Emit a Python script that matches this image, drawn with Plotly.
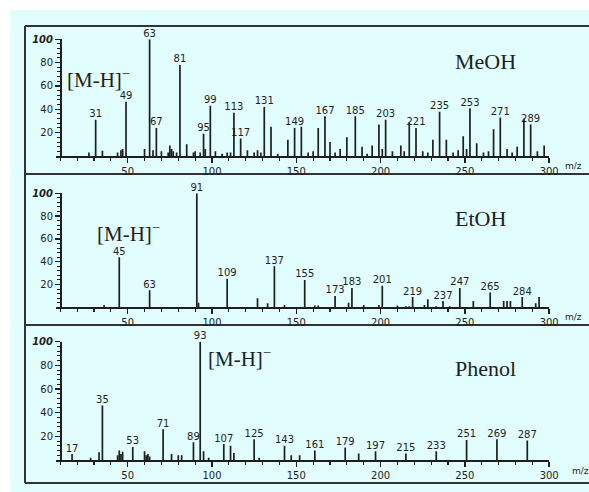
import plotly.graph_objects as go

W, H = 589, 492

# ---------------- data ----------------
meoh_mz = [27, 31, 35, 44, 46, 47, 49, 60, 63, 65, 67, 70, 74, 75, 76, 77, 79, 81, 85, 89, 90,
           93, 95, 96, 99, 102, 106, 109, 111, 113, 117, 121, 125, 127, 129, 131, 135, 139, 145,
           149, 153, 157, 160, 163, 167, 170, 173, 176, 180, 185, 189, 192, 195, 199, 201, 203,
           207, 212, 214, 217, 221, 225, 228, 231, 235, 239, 243, 246, 249, 251, 253, 257, 261,
           264, 267, 271, 275, 278, 281, 285, 289, 293, 297]
meoh_int = [3, 31, 4.5, 3, 5, 6, 46.5, 6, 100, 5, 24, 4, 3, 9, 6, 4, 3, 78, 10, 3, 4,
            3, 19, 6, 43, 4, 2, 3, 3, 37, 15, 5, 3, 5, 3, 42, 25, 2, 14,
            24, 25, 3, 4, 24, 34, 12, 3, 6, 16, 34, 8, 2, 9, 27, 6, 31,
            4, 9, 4, 29, 24, 4, 3, 14, 38, 14, 3, 5, 17, 6, 41, 11, 3,
            4, 23, 33, 6, 3, 8, 32, 27, 4, 9]
meoh_labels = [31, 49, 63, 67, 81, 95, 99, 113, 117, 131, 149, 167, 185, 203, 221, 235, 253, 271, 289]

etoh_mz = [36, 45, 63, 91, 92, 109, 127, 133, 137, 143, 155, 161, 163, 173, 181, 183, 190, 199,
           201, 210, 215, 217, 219, 226, 228, 233, 237, 241, 247, 255, 265, 273, 275, 277, 284,
           292, 294]
etoh_int = [2, 44, 15, 100, 4, 25, 8, 3.5, 36, 2, 24, 1.5, 1.5, 10, 4, 17, 2, 2,
            19, 1.5, 1, 1, 9, 2, 7, 1, 5.5, 1, 17, 5.5, 13, 5.5, 5.5, 5.5, 9,
            3.5, 9]
etoh_labels = [45, 63, 91, 109, 137, 155, 173, 183, 201, 219, 237, 247, 265, 284]

phenol_mz = [17, 28, 33, 35, 44, 45, 46, 47, 53, 60, 61, 62, 63, 71, 76, 80, 82, 89, 93, 95,
             98, 107, 111, 113, 125, 128, 143, 147, 152, 161, 179, 187, 197, 215, 233, 251,
             269, 287]
phenol_int = [5, 2, 6.5, 46, 4, 8, 5, 7, 11, 7.5, 4, 5, 3, 26, 5, 4, 4, 15, 100, 7.5,
              2, 13.5, 12, 6, 17.5, 2, 12, 4, 4, 8, 10.5, 5.6, 7.5, 5.6, 7.5, 17,
              17.5, 16.5]
phenol_labels = [17, 35, 53, 71, 89, 93, 107, 125, 143, 161, 179, 197, 215, 233, 251, 269, 287]

solvents = ["MeOH", "EtOH", "Phenol"]
x_ticks = [50, 100, 150, 200, 250, 300]
y_ticks = [20, 40, 60, 80, 100]
y_ticktext = ["20", "40", "60", "80", "<b><i>100</i></b>"]

# ---------------- layout geometry (pixels) ----------------
def px(x):
    return x / W

def py(y):
    return 1 - y / H

# x-axis: m/z -> pixel  (px = 43.4 + 1.686*m)
X0, XS = 43.4, 1.686
xr = [7.5, 300]
xdom = [px(X0 + XS * xr[0]), px(X0 + XS * xr[1])]
yaxis_pos = px(60)

panels = [
    dict(mz=meoh_mz, it=meoh_int, lab=meoh_labels, base=156.0, top=39.3,
         mh=(65, 78), name_y=62, mz_lab=(563, 166)),
    dict(mz=etoh_mz, it=etoh_int, lab=etoh_labels, base=307.3, top=193.3,
         mh=(95, 232), name_y=219, mz_lab=(563, 317)),
    dict(mz=phenol_mz, it=phenol_int, lab=phenol_labels, base=460.0, top=341.7,
         mh=(206, 357), name_y=368, mz_lab=(570, 471)),
]

ink = "#1e1e1e"
fig = go.Figure()
layout = dict(
    width=W, height=H,
    margin=dict(l=0, r=0, t=0, b=0, autoexpand=False),
    paper_bgcolor="white",
    plot_bgcolor="rgba(0,0,0,0)",
    showlegend=False,
    font=dict(family="DejaVu Sans", size=10, color=ink),
)

annotations = []
for i, p in enumerate(panels):
    n = i + 1
    xa = "x" if n == 1 else f"x{n}"
    ya = "y" if n == 1 else f"y{n}"
    # sticks
    xs, ys = [], []
    for m, v in zip(p["mz"], p["it"]):
        xs += [m, m, None]
        ys += [0, v, None]
    fig.add_trace(go.Scatter(x=xs, y=ys, mode="lines", xaxis=xa, yaxis=ya,
                             line=dict(color=ink, width=1.7), hoverinfo="skip"))
    # labels
    lookup = dict(zip(p["mz"], p["it"]))
    fig.add_trace(go.Scatter(x=p["lab"], y=[lookup[m] for m in p["lab"]],
                             text=[str(m) for m in p["lab"]], mode="text",
                             textposition="top center", xaxis=xa, yaxis=ya,
                             textfont=dict(family="DejaVu Sans", size=10, color=ink),
                             cliponaxis=False, hoverinfo="skip"))
    xkey = "xaxis" if n == 1 else f"xaxis{n}"
    ykey = "yaxis" if n == 1 else f"yaxis{n}"
    layout[xkey] = dict(
        domain=xdom, range=xr, anchor=ya, showgrid=False, zeroline=False,
        showline=True, linecolor=ink, linewidth=1.5,
        tickmode="array", tickvals=x_ticks, ticks="outside", ticklen=5,
        tickwidth=1.5, tickcolor=ink,
        tickfont=dict(family="DejaVu Sans", size=10, color=ink),
        minor=dict(tick0=0, dtick=10, ticks="outside", ticklen=3, tickwidth=1.2,
                   tickcolor=ink, showgrid=False),
        fixedrange=True,
    )
    layout[ykey] = dict(
        domain=[py(p["base"]), py(p["top"])], range=[0, 100],
        anchor="free", position=yaxis_pos,
        showgrid=False, zeroline=False, showline=True, linecolor=ink, linewidth=1.5,
        tickmode="array", tickvals=y_ticks, ticktext=y_ticktext,
        ticks="outside", ticklen=5, tickwidth=1.5, tickcolor=ink,
        tickfont=dict(family="DejaVu Sans", size=10, color=ink),
        minor=dict(tick0=0, dtick=4, ticks="outside", ticklen=3, tickwidth=1,
                   tickcolor=ink, showgrid=False),
        fixedrange=True,
    )
    annotations.append(dict(xref="paper", yref="paper", x=px(p["mh"][0]), y=py(p["mh"][1]),
                            xanchor="left", yanchor="middle", showarrow=False,
                            text="[M-H]<sup>−</sup>",
                            font=dict(family="Liberation Serif", size=21, color=ink)))
    annotations.append(dict(xref="paper", yref="paper", x=px(453), y=py(p["name_y"]),
                            xanchor="left", yanchor="middle", showarrow=False,
                            text=solvents[i],
                            font=dict(family="Liberation Serif", size=22, color=ink)))
    annotations.append(dict(xref="paper", yref="paper", x=px(p["mz_lab"][0]), y=py(p["mz_lab"][1]),
                            xanchor="left", yanchor="middle", showarrow=False,
                            text="m/z",
                            font=dict(family="DejaVu Sans", size=9, color=ink)))

frame = "#333333"
shapes = [
    dict(type="rect", xref="paper", yref="paper", x0=px(10), x1=1, y0=0, y1=py(10),
         fillcolor="#e1fdfd", line=dict(width=0), layer="below"),
    dict(type="line", xref="paper", yref="paper", x0=px(25), x1=1, y0=py(26), y1=py(26),
         line=dict(color=frame, width=2), layer="below"),
    dict(type="line", xref="paper", yref="paper", x0=px(25), x1=1, y0=py(174), y1=py(174),
         line=dict(color=frame, width=2), layer="below"),
    dict(type="line", xref="paper", yref="paper", x0=px(25), x1=1, y0=py(325), y1=py(325),
         line=dict(color=frame, width=2), layer="below"),
    dict(type="line", xref="paper", yref="paper", x0=px(25), x1=1, y0=py(483), y1=py(483),
         line=dict(color=frame, width=2), layer="below"),
    dict(type="line", xref="paper", yref="paper", x0=px(25), x1=px(25), y0=py(26), y1=py(483),
         line=dict(color=frame, width=2), layer="below"),
]

layout["annotations"] = annotations
layout["shapes"] = shapes
fig.update_layout(**layout)

reset_page = (
    "document.documentElement.style.margin='0';"
    "document.documentElement.style.padding='0';"
    "document.documentElement.style.overflow='hidden';"
    "document.body.style.margin='0';"
    "document.body.style.padding='0';"
    "document.body.style.overflow='hidden';"
)
fig.write_html("out.html", post_script=reset_page,
               config={"displayModeBar": False, "staticPlot": True})
